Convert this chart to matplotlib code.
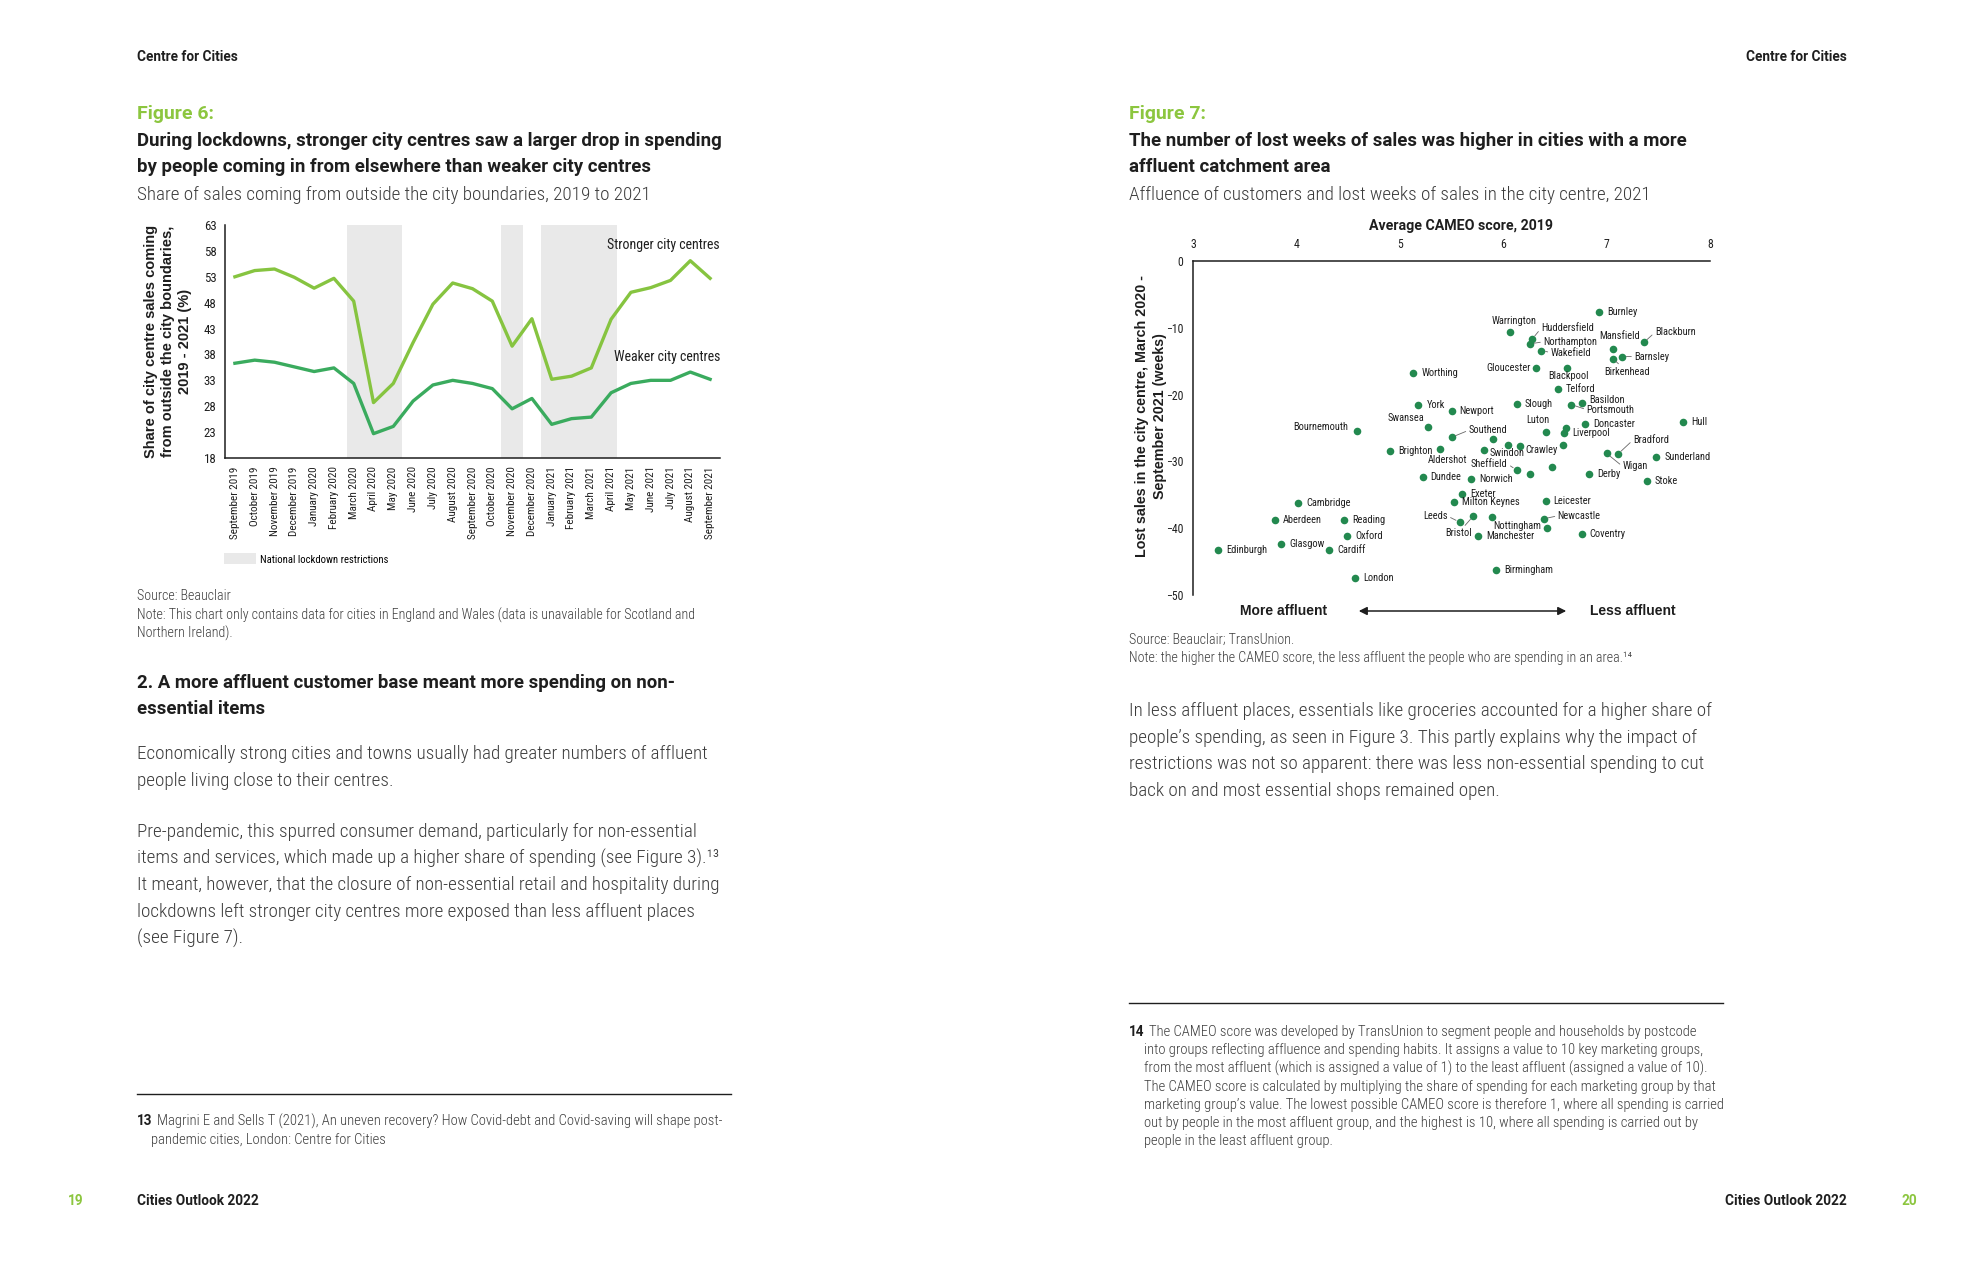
import matplotlib
matplotlib.use('Agg')
import matplotlib.pyplot as plt

# ---- Figure 6 data: share of sales from outside the city (%) ----
months = ['September 2019', 'October 2019', 'November 2019', 'December 2019',
          'January 2020', 'February 2020', 'March 2020', 'April 2020', 'May 2020',
          'June 2020', 'July 2020', 'August 2020', 'September 2020', 'October 2020',
          'November 2020', 'December 2020', 'January 2021', 'February 2021',
          'March 2021', 'April 2021', 'May 2021', 'June 2021', 'July 2021',
          'August 2021', 'September 2021']
stronger = [53.0, 54.2, 54.5, 52.9, 50.8, 52.7, 48.3, 28.7, 32.4, 40.3, 47.7, 51.8,
            50.7, 48.3, 39.6, 44.9, 33.2, 33.8, 35.4, 44.8, 50.0, 50.9, 52.3, 56.1, 52.7]
weaker = [36.3, 36.9, 36.5, 35.6, 34.7, 35.4, 32.4, 22.7, 24.1, 29.0, 32.1, 33.0,
          32.4, 31.4, 27.5, 29.5, 24.5, 25.6, 25.9, 30.6, 32.4, 33.0, 33.0, 34.6, 33.2]
# lockdown periods as month positions (0 = September 2019)
lockdown_start = [5.65, 13.45, 15.46]
lockdown_end = [8.42, 14.55, 19.3]

# ---- Figure 7 data: CAMEO score vs lost weeks of sales ----
cities = ['Burnley', 'Warrington', 'Huddersfield', 'Northampton', 'Wakefield',
          'Mansfield', 'Blackburn', 'Barnsley', 'Birkenhead', 'Gloucester',
          'Blackpool', 'Telford', 'Slough', 'Portsmouth', 'Basildon', 'Newport',
          'Hull', 'Doncaster', 'Luton', '', 'Liverpool', 'Southend', '', '',
          'Crawley', '', 'Swindon', 'Aldershot', 'Wigan', 'Bradford', 'Sunderland',
          'Sheffield', '', '', 'Derby', 'Stoke', 'Norwich', 'Exeter', 'Milton Keynes',
          'Leicester', 'Leeds', 'Bristol', '', 'Newcastle', 'Nottingham',
          'Manchester', 'Coventry', 'Birmingham', 'Worthing', 'York', 'Swansea',
          'Bournemouth', 'Brighton', 'Dundee', 'Cambridge', 'Aberdeen', 'Reading',
          'Oxford', 'Glasgow', 'Cardiff', 'Edinburgh', 'London']
cameo = [6.93, 6.07, 6.28, 6.26, 6.37, 7.06, 7.36, 7.15, 7.06, 6.32,
         6.62, 6.53, 6.13, 6.66, 6.76, 5.50, 7.74, 6.79, 6.41, 6.61,
         6.59, 5.50, 5.90, 6.05, 6.16, 6.58, 5.81, 5.39, 7.00, 7.11,
         7.48, 6.13, 6.26, 6.47, 6.83, 7.39, 5.69, 5.60, 5.52, 6.41,
         5.58, 5.71, 5.89, 6.39, 6.42, 5.76, 6.76, 5.93, 5.13, 5.18,
         5.27, 4.59, 4.91, 5.22, 4.02, 3.79, 4.46, 4.49, 3.85, 4.32,
         3.24, 4.57]
lost_weeks = [-7.7, -10.6, -11.7, -12.4, -13.4, -13.2, -12.2, -14.3, -14.6, -16.0,
              -16.0, -19.1, -21.4, -21.5, -21.2, -22.4, -24.1, -24.4, -25.6, -25.0,
              -25.8, -26.4, -26.7, -27.5, -27.7, -27.5, -28.3, -28.1, -28.8, -28.9,
              -29.3, -31.3, -31.9, -30.8, -31.9, -32.9, -32.7, -34.9, -36.1, -36.0,
              -39.1, -38.2, -38.3, -38.6, -39.9, -41.2, -40.8, -46.2, -16.7, -21.5,
              -24.9, -25.4, -28.4, -32.3, -36.2, -38.7, -38.7, -41.2, -42.3, -43.2,
              -43.3, -47.4]

# label placement: offset in pixels, alignment, leader line
label_place = {
    'Warrington': (4, 11, 'center', False), 'Huddersfield': (9, 11, 'left', True),
    'Northampton': (13, 2, 'left', True), 'Wakefield': (9, -2, 'left', True),
    'Mansfield': (7, 13, 'center', False), 'Blackburn': (11, 10, 'left', True),
    'Barnsley': (12, 0, 'left', True), 'Birkenhead': (14, -13, 'center', True),
    'Gloucester': (-6, 0, 'right', False), 'Blackpool': (1, -8, 'center', False),
    'Basildon': (7, 3, 'left', False), 'Portsmouth': (15, -5, 'left', True),
    'Luton': (-8, 12, 'center', False), 'Southend': (17, 7, 'left', True),
    'Crawley': (6, -4, 'left', False), 'Swindon': (6, -3, 'left', False),
    'Aldershot': (7, -11, 'center', False), 'Wigan': (16, -13, 'left', True),
    'Bradford': (15, 14, 'left', True), 'Sheffield': (-9, 6, 'right', True),
    'Leeds': (-12, 6, 'right', True), 'Bristol': (-15, -17, 'center', True),
    'Nottingham': (-5, 2, 'right', False), 'Newcastle': (14, 3, 'left', True),
    'Swansea': (-22, 9, 'center', False), 'Bournemouth': (-9, 4, 'right', False),
}

W, H = 1984, 1276
COND = ['Roboto Condensed', 'Liberation Sans Narrow', 'DejaVu Sans']
BOLD = ['Roboto', 'Liberation Sans', 'DejaVu Sans']
ARIAL = ['Liberation Sans', 'DejaVu Sans']
TEXT = '#3c3c3c'
DARK = '#1e1e1e'
GREEN_HEAD = '#8cc63f'
STRONG = '#86c440'
WEAK = '#3aab5e'
DOT = '#23894f'
SHADE = '#e9e9e9'

fig = plt.figure(figsize=(W / 100, H / 100), dpi=100)
fig.patch.set_facecolor('white')


def put(x, y, s, size, weight='light', color=TEXT, family=COND, **kw):
    fig.text(x / W, 1 - y / H, s, fontsize=size, fontweight=weight,
             color=color, family=family, va='center', **kw)


def bold(x, y, s, size, color=DARK, **kw):
    put(x, y, s, size, weight='bold', color=color, family=BOLD, **kw)


def block(x, y0, step, lines, size, fn=put, **kw):
    for i, s in enumerate(lines):
        fn(x, y0 + i * step, s, size, **kw)


def rule(x0, x1, y):
    fig.add_artist(plt.Line2D([x0 / W, x1 / W], [1 - y / H, 1 - y / H],
                              color=DARK, lw=1.0, transform=fig.transFigure))


# ---------------- left page ----------------
bold(137, 57, 'Centre for Cities', 9.8)
bold(137, 114, 'Figure 6:', 14, color=GREEN_HEAD)
block(137, 141, 25.5, ['During lockdowns, stronger city centres saw a larger drop in spending',
                       'by people coming in from elsewhere than weaker city centres'],
      13.4, fn=bold)
put(137, 195, 'Share of sales coming from outside the city boundaries, 2019 to 2021', 13.8)

ax6 = fig.add_axes([225 / W, 1 - 458 / H, (720 - 225) / W, (458 - 225) / H])
x = list(range(len(months)))
for i, (a, b) in enumerate(zip(lockdown_start, lockdown_end)):
    ax6.axvspan(a, b, color=SHADE, lw=0, zorder=0,
                label='National lockdown restrictions' if i == 0 else None)
ax6.plot(x, stronger, color=STRONG, lw=2.4, zorder=3)
ax6.plot(x, weaker, color=WEAK, lw=2.4, zorder=3)
ax6.set_xlim(-0.5, 24.5)
ax6.set_ylim(18, 63)
ax6.set_yticks(range(18, 64, 5))
ax6.set_xticks(x)
ax6.set_xticklabels(months, rotation=90, family=COND, fontsize=8, color=DARK)
for t in ax6.get_yticklabels():
    t.set_family(COND)
    t.set_fontsize(9.3)
    t.set_color(DARK)
ax6.tick_params(length=0, pad=6)
for s in ['top', 'right']:
    ax6.spines[s].set_visible(False)
for s in ['left', 'bottom']:
    ax6.spines[s].set_linewidth(1.1)
    ax6.spines[s].set_color(DARK)
ax6.text(1.0, 0.915, 'Stronger city centres', transform=ax6.transAxes, ha='right',
         va='center', family=COND, fontsize=10, color=DARK)
ax6.text(1.0, 0.435, 'Weaker city centres', transform=ax6.transAxes, ha='right',
         va='center', family=COND, fontsize=10, color=DARK)
ax6.legend(loc='center left', bbox_to_anchor=(224 / W, 1 - 559 / H),
           bbox_transform=fig.transFigure, frameon=False, handlelength=3.0,
           handleheight=1.2, handletextpad=0.35, borderpad=0, borderaxespad=0,
           prop={'family': COND, 'size': 7.7})
fig.text(168 / W, 1 - 341 / H,
         'Share of city centre sales coming\nfrom outside the city boundaries,\n2019 - 2021 (%)',
         rotation=90, ha='center', va='center', multialignment='center',
         family=ARIAL, fontweight='bold', fontsize=10.5, color=DARK, linespacing=1.25)

put(137, 596, 'Source: Beauclair', 10.1)
block(137, 615, 18, ['Note: This chart only contains data for cities in England and Wales (data is unavailable for Scotland and',
                     'Northern Ireland).'], 10.1)
block(137, 683, 26.5, ['2. A more affluent customer base meant more spending on non-',
                       'essential items'], 13.4, fn=bold)
block(137, 754, 26.5, ['Economically strong cities and towns usually had greater numbers of affluent',
                       'people living close to their centres.'], 13.8)
block(137, 832, 26.7, ['Pre-pandemic, this spurred consumer demand, particularly for non-essential',
                       'items and services, which made up a higher share of spending (see Figure 3).\u00b9\u00b3',
                       'It meant, however, that the closure of non-essential retail and hospitality during',
                       'lockdowns left stronger city centres more exposed than less affluent places',
                       '(see Figure 7).'], 13.8)
rule(137, 731, 1094)
bold(137, 1121, '13', 9.8)
put(157, 1121, 'Magrini E and Sells T (2021), An uneven recovery? How Covid-debt and Covid-saving will shape post-', 10.5)
put(151, 1140, 'pandemic cities, London: Centre for Cities', 10.5)
bold(76, 1201, '19', 9.8, color=GREEN_HEAD, ha='center')
bold(137, 1201, 'Cities Outlook 2022', 9.8)

# ---------------- right page ----------------
bold(1847, 57, 'Centre for Cities', 9.8, ha='right')
bold(1129, 114, 'Figure 7:', 14, color=GREEN_HEAD)
block(1129, 141, 25.5, ['The number of lost weeks of sales was higher in cities with a more',
                        'affluent catchment area'], 13.4, fn=bold)
put(1129, 195, 'Affluence of customers and lost weeks of sales in the city centre, 2021', 13.8)

ax7 = fig.add_axes([1193 / W, 1 - 595 / H, (1710 - 1193) / W, (595 - 261) / H])
ax7.scatter(cameo, lost_weeks, s=30, color=DOT, zorder=3, linewidths=0)
for name, cx, cy in zip(cities, cameo, lost_weeks):
    if not name:
        continue
    dx, dy, ha, line = label_place.get(name, (8, 0, 'left', False))
    relx = {'left': 0.0, 'right': 1.0, 'center': 0.5}[ha]
    props = None
    if line:
        props = dict(arrowstyle='-', color='#666666', lw=0.6, shrinkA=0, shrinkB=3,
                     relpos=(relx, 0.5))
    ax7.annotate(name, (cx, cy), xytext=(dx, dy), textcoords='offset pixels',
                 ha=ha, va='center', family=COND, fontsize=7.5, color=DARK,
                 arrowprops=props)
ax7.set_xlim(3, 8)
ax7.set_ylim(-50, 0)
ax7.set_xticks(range(3, 9))
ax7.set_yticks(range(-50, 1, 10))
ax7.xaxis.tick_top()
ax7.tick_params(length=0, pad=7, labelsize=8.5, labelcolor=DARK)
for t in ax7.get_xticklabels() + ax7.get_yticklabels():
    t.set_family(COND)
for s in ['bottom', 'right']:
    ax7.spines[s].set_visible(False)
for s in ['top', 'left']:
    ax7.spines[s].set_linewidth(1.1)
    ax7.spines[s].set_color(DARK)
bold(1461, 226, 'Average CAMEO score, 2019', 10.2, ha='center')
fig.text(1151 / W, 1 - 416 / H,
         'Lost sales in the city centre, March 2020 -\nSeptember 2021 (weeks)',
         rotation=90, ha='center', va='center', multialignment='center',
         family=ARIAL, fontweight='bold', fontsize=10.3, color=DARK, linespacing=1.3)
put(1284, 611, 'More affluent', 10, weight='bold', color=DARK, family=ARIAL, ha='center')
put(1590, 611, 'Less affluent', 10, weight='bold', color=DARK, family=ARIAL)
fig.add_artist(matplotlib.patches.FancyArrowPatch(
    (1356 / W, 1 - 611 / H), (1569 / W, 1 - 611 / H), transform=fig.transFigure,
    arrowstyle='<|-|>', mutation_scale=12, color=DARK, lw=1.1))

put(1129, 640, 'Source: Beauclair; TransUnion.', 10.1)
put(1129, 658, 'Note: the higher the CAMEO score, the less affluent the people who are spending in an area.\u00b9\u2074', 10.1)
block(1129, 711, 26.7, ['In less affluent places, essentials like groceries accounted for a higher share of',
                        'people\u2019s spending, as seen in Figure 3. This partly explains why the impact of',
                        'restrictions was not so apparent: there was less non-essential spending to cut',
                        'back on and most essential shops remained open.'], 13.8)
rule(1129, 1723, 1003)
bold(1129, 1032, '14', 9.8)
fn14 = ['The CAMEO score was developed by TransUnion to segment people and households by postcode',
        'into groups reflecting affluence and spending habits. It assigns a value to 10 key marketing groups,',
        'from the most affluent (which is assigned a value of 1) to the least affluent (assigned a value of 10).',
        'The CAMEO score is calculated by multiplying the share of spending for each marketing group by that',
        'marketing group\u2019s value. The lowest possible CAMEO score is therefore 1, where all spending is carried',
        'out by people in the most affluent group, and the highest is 10, where all spending is carried out by',
        'people in the least affluent group.']
put(1149, 1032, fn14[0], 10.5)
block(1144, 1050.2, 18.2, fn14[1:], 10.5)
bold(1847, 1201, 'Cities Outlook 2022', 9.8, ha='right')
bold(1909, 1201, '20', 9.8, color=GREEN_HEAD, ha='center')

fig.savefig('out.png', dpi=100, facecolor='white')
